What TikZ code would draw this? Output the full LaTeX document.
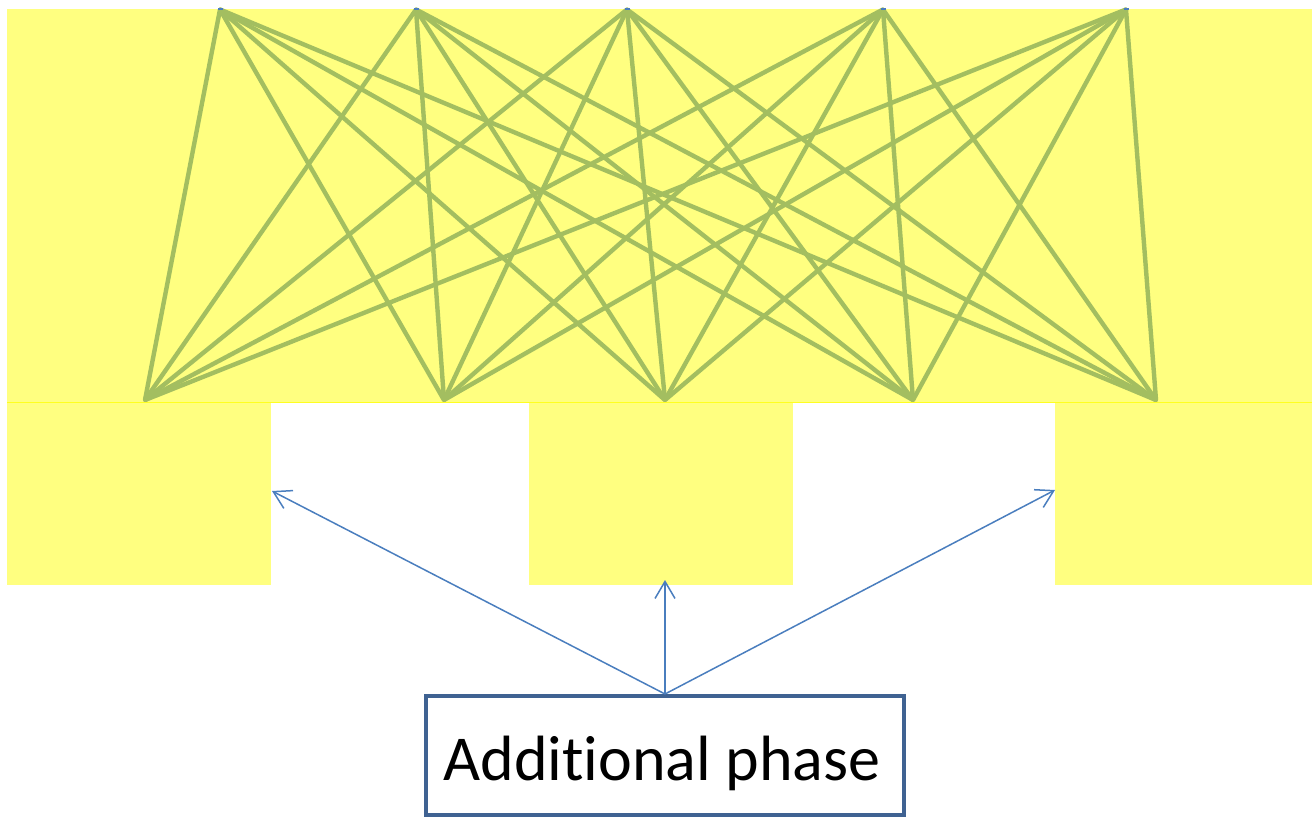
\documentclass[tikz,border=0pt]{standalone}
\usepackage{fontspec}
\setmainfont[Ligatures=NoCommon]{Carlito}
\usetikzlibrary{arrows.meta}
\definecolor{pad}{HTML}{FFFF80}
\definecolor{padedge}{HTML}{FFFF20}
\definecolor{linkgreen}{HTML}{A3BE60}
\definecolor{arrowblue}{HTML}{4A7EBE}
\definecolor{boxblue}{HTML}{3F6292}
\tikzset{
  zone/.style={fill=pad, draw=none},
  port/.style={fill=arrowblue, draw=none, inner sep=0pt, minimum width=2.5pt, minimum height=1pt},
  sink/.style={inner sep=0pt, minimum size=0pt},
  link/.style={draw=linkgreen, line width=2.2pt, line cap=round},
  pointer/.style={draw=arrowblue, line width=0.75pt, -{Straight Barb[length=8.5pt, width=10pt, line width=0.75pt]}},
  phasebox/.style={draw=boxblue, line width=2pt, fill=white, minimum width=239pt, minimum height=59.5pt, inner sep=0pt, font=\fontsize{32}{38}\selectfont}
}
\begin{document}
\begin{tikzpicture}[x=0.5pt, y=-0.5pt]
  \useasboundingbox (0,0) rectangle (1312,820);
  % yellow regions
  \fill[pad] (7,9) rectangle (1312,403);
  \fill[pad] (7,403) rectangle (271,585);
  \fill[pad] (529,403) rectangle (793,585);
  \fill[pad] (1055,403) rectangle (1312,585);
  \draw[padedge, line width=0.5pt] (7,402.5) -- (1312,402.5);
  % upper and lower rows of points
  \foreach \i/\x in {1/220, 2/416, 3/627, 4/883, 5/1126}
    \node[sink] (t\i) at (\x,9.5) {};
  \foreach \i/\x in {1/145, 2/444, 3/665, 4/913, 5/1156}
    \node[sink] (b\i) at (\x,400) {};
  % every upper point joined to every lower point
  \foreach \i in {1,...,5}
    \foreach \j in {1,...,5}
      \draw[link] (t\i) -- (b\j);
  \foreach \i/\x in {1/220, 2/416, 3/627, 4/883, 5/1126}
    \node[port] (m\i) at (\x,8.5) {};
  % targets on the three lower regions
  \coordinate (left) at (272,491);
  \coordinate (mid) at (665,580);
  \coordinate (right) at (1055,490);
  % the box and its arrows
  \node[phasebox] (phase) at (665,755.5) {};
  \node[font=\fontsize{32}{38}\selectfont, inner sep=0pt, anchor=base] (label) at (662,780) {Additional phase};
  \draw[pointer] (phase.north) -- (left);
  \draw[pointer] (phase.north) -- (mid);
  \draw[pointer] (phase.north) -- (right);
\end{tikzpicture}
\end{document}
